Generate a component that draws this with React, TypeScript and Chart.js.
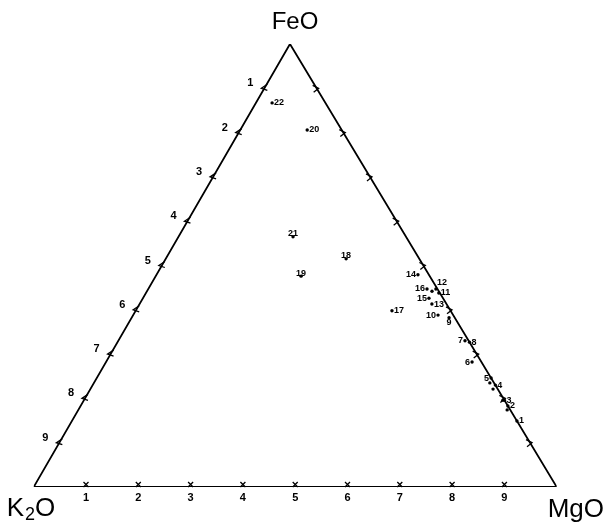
import React, { useEffect, useRef } from "react";
import { Chart, registerables } from "chart.js";

Chart.register(...registerables);

// Ternary compositions (percent) of the numbered samples
const POINT_LABELS = ["1", "2", "3", "4", "5", "6", "7", "8", "9", "10", "11", "12", "13", "14", "15", "16", "17", "18", "19", "20", "21", "22", "", "", "", "", ""];
const K2O = [0, 0, 0, 0, 0, 1.8, 0.7, 0, 1.1, 2.9, 0.2, 0.3, 2.8, 2.1, 2.7, 2.0, 11.2, 14.0, 24.6, 6.6, 21.6, 10.2, 0.8, 0.9, 0.3, 0.6, 1.3];
const MGO = [85.1, 81.7, 80.4, 77.0, 75.4, 70.0, 66.3, 67.3, 60.7, 58.3, 56.0, 55.0, 55.9, 50.0, 54.7, 53.3, 49.0, 34.5, 27.8, 12.8, 21.9, 3.1, 75.7, 77.0, 80.1, 82.0, 54.5];
const FEO = [14.9, 18.3, 19.6, 23.0, 24.6, 28.2, 33.0, 32.7, 38.2, 38.8, 43.8, 44.7, 41.3, 47.9, 42.6, 44.7, 39.8, 51.5, 47.6, 80.6, 56.5, 86.7, 23.5, 22.1, 19.6, 17.4, 44.2];

// Axis ticks along each edge
const TICK_LABELS = ["1", "2", "3", "4", "5", "6", "7", "8", "9"];
const VERTEX_NAMES = ["K2O", "MgO", "FeO"];

// label placement relative to its dot (style only)
const LABEL_SIDE = ["r", "r", "r", "r", "l", "l", "l", "r", "b", "l", "r", "a", "r", "l", "l", "l", "r", "c", "c", "r", "c", "r", "", "", "", "", ""];

const APEX_X = 4.9; // horizontal position of the FeO apex on the 0..10 base

function toXY(k: number, m: number, f: number) {
  const s = k + m + f;
  const mm = (m / s) * 10;
  const ff = (f / s) * 10;
  return { x: mm + ff * (APEX_X / 10), y: ff };
}

const FONT = "'Liberation Sans', Arial, sans-serif";

const decorPlugin = {
  id: "ternaryDecor",
  afterDatasetsDraw(chart: any) {
    const ctx = chart.ctx;
    const xs = chart.scales.x;
    const ys = chart.scales.y;
    const px = (p: { x: number; y: number }) => ({ x: xs.getPixelForValue(p.x), y: ys.getPixelForValue(p.y) });
    ctx.save();
    ctx.strokeStyle = "#000";
    ctx.fillStyle = "#000";
    ctx.lineWidth = 1.3;

    TICK_LABELS.forEach((lab, i) => {
      const v = (i + 1) * 10;
      // left edge: K2O grows from FeO apex downward
      const L = px(toXY(v, 0, 100 - v));
      ctx.beginPath();
      ctx.moveTo(L.x + 3, L.y - 4);
      ctx.lineTo(L.x - 3, L.y);
      ctx.lineTo(L.x + 3, L.y + 2);
      ctx.stroke();
      ctx.font = `bold 11px ${FONT}`;
      ctx.textAlign = "center";
      ctx.textBaseline = "middle";
      ctx.fillText(lab, L.x - 14, L.y - 5);

      // bottom edge
      const B = px(toXY(100 - v, v, 0));
      ctx.beginPath();
      ctx.moveTo(B.x - 2.5, B.y - 5);
      ctx.lineTo(B.x + 2.5, B.y);
      ctx.moveTo(B.x + 2.5, B.y - 5);
      ctx.lineTo(B.x - 2.5, B.y);
      ctx.stroke();
      ctx.fillText(lab, B.x, B.y + 11);

      // right edge (unlabelled)
      const R = px(toXY(0, v, 100 - v));
      ctx.beginPath();
      ctx.moveTo(R.x - 4, R.y - 3);
      ctx.lineTo(R.x + 2, R.y);
      ctx.lineTo(R.x - 3, R.y + 4);
      ctx.stroke();
    });

    // point labels
    ctx.font = `bold 9px ${FONT}`;
    const meta = chart.getDatasetMeta(1);
    meta.data.forEach((el: any, i: number) => {
      const lab = POINT_LABELS[i];
      if (!lab) return;
      const side = LABEL_SIDE[i];
      ctx.textBaseline = "middle";
      if (side === "r") { ctx.textAlign = "left"; ctx.fillText(lab, el.x + 2, el.y); }
      else if (side === "l") { ctx.textAlign = "right"; ctx.fillText(lab, el.x - 2, el.y); }
      else if (side === "b") { ctx.textAlign = "center"; ctx.fillText(lab, el.x, el.y + 5); }
      else if (side === "a") { ctx.textAlign = "left"; ctx.fillText(lab, el.x + 1, el.y - 6); }
      else { ctx.textAlign = "center"; ctx.fillText(lab, el.x, el.y - 3); }
    });

    // vertex names
    const K = px(toXY(100, 0, 0));
    const M = px(toXY(0, 100, 0));
    const F = px(toXY(0, 0, 100));
    ctx.textBaseline = "alphabetic";
    ctx.font = `24px ${FONT}`;
    ctx.textAlign = "center";
    ctx.fillText(VERTEX_NAMES[2], F.x + 5, F.y - 15);
    ctx.font = `26px ${FONT}`;
    ctx.textAlign = "left";
    ctx.fillText(VERTEX_NAMES[1], M.x - 9, M.y + 30);
    // K2O with subscript
    let x0 = K.x - 27;
    const base = K.y + 29;
    ctx.fillText("K", x0, base);
    x0 += ctx.measureText("K").width;
    ctx.font = `18px ${FONT}`;
    ctx.fillText("2", x0 + 1, base + 4);
    x0 += ctx.measureText("2").width + 1;
    ctx.font = `26px ${FONT}`;
    ctx.fillText("O", x0, base);
    ctx.restore();
  },
};

export default function App() {
  const ref = useRef<HTMLCanvasElement | null>(null);
  useEffect(() => {
    if (!ref.current) return;
    const verts = [toXY(100, 0, 0), toXY(0, 100, 0), toXY(0, 0, 100), toXY(100, 0, 0)];
    const pts = K2O.map((k, i) => toXY(k, MGO[i], FEO[i]));
    const chart = new Chart(ref.current, {
      type: "scatter",
      data: {
        datasets: [
          {
            data: verts,
            showLine: true,
            borderColor: "#000",
            borderWidth: 1.8,
            pointRadius: 0,
            fill: false,
          },
          {
            data: pts,
            pointRadius: 1.7,
            pointBackgroundColor: "#000",
            pointBorderWidth: 0,
            showLine: false,
          },
        ],
      },
      options: {
        animation: false,
        responsive: true,
        maintainAspectRatio: false,
        layout: { padding: { left: 33.7, right: 48.3, top: 44, bottom: 39 } },
        plugins: { legend: { display: false }, tooltip: { enabled: false } },
        scales: {
          x: { type: "linear", min: 0, max: 10, display: false },
          y: { type: "linear", min: 0, max: 10, display: false },
        },
      },
      plugins: [decorPlugin],
    });
    return () => chart.destroy();
  }, []);
  return (
    <div style={{ position: "fixed", left: 0, top: 0, width: 605, height: 526, background: "#fff" }}>
      <canvas ref={ref} />
    </div>
  );
}
